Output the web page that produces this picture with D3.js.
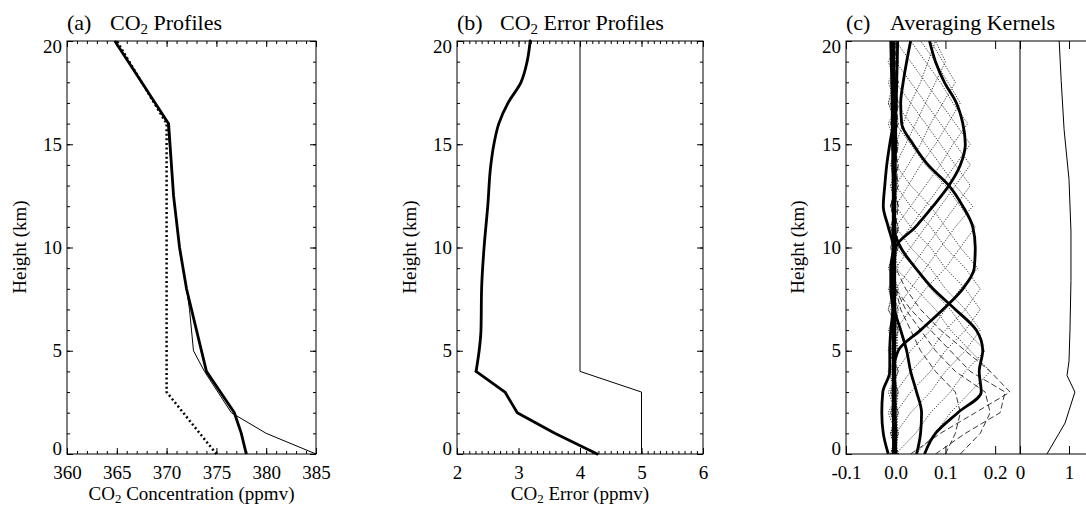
<!DOCTYPE html>
<html>
<head>
<meta charset="utf-8">
<script src="https://cdn.jsdelivr.net/npm/d3@7"></script>
<style>
  body { margin: 0; background: #fff; }
  svg, svg text { font-family: 'Liberation Serif', 'DejaVu Serif', serif; }
  text { fill: #000; }
</style>
</head>
<body>
<svg id="fig" width="1086" height="507" font-family="Liberation Serif"></svg>
<script>
// ---- data: panel (a) CO2 profiles (height km, ppmv)
var trueH    = [0, 1, 2, 4, 5, 7, 8, 10, 12.5, 16, 20];
var trueCO2  = [385, 380, 376.5, 373.8, 372.7, 372.3, 372.0, 371.3, 370.7, 370.1, 364.8];
var retH     = [0, 1, 2, 3, 4, 6, 8, 10, 12.5, 16, 20];
var retCO2   = [378, 377.5, 376.8, 375.4, 374.0, 373.0, 372.0, 371.3, 370.7, 370.2, 364.8];
var priorH   = [0, 3, 16, 20];
var priorCO2 = [375, 370, 370, 365];

// ---- panel (b) error profiles (ppmv)
var errH     = [0, 1, 2, 3, 4, 5, 6, 8, 10, 12, 14, 15, 16, 17, 18, 19, 20];
var errRet   = [4.28, 3.59, 2.98, 2.78, 2.31, 2.36, 2.39, 2.40, 2.44, 2.50, 2.55, 2.60, 2.68, 2.83, 3.04, 3.14, 3.19];
var errPrH   = [0, 3, 4, 20];
var errPrior = [5, 5, 4, 4];

// ---- panel (c) averaging kernels, values at levels 0..20 km
var kLevels = [0,1,2,3,4,5,6,7,8,9,10,11,12,13,14,15,16,17,18,19,20];
var kDotted = [
  [0.04,0.08,0.11,0.15,0.19,0.15,0.11,0.08,0.04,0.00,-0.005,0.005,-0.01,0.0,-0.01,0.005,-0.005,-0.01,0.005,-0.01,-0.005],
  [0.0,0.04,0.07,0.11,0.14,0.18,0.14,0.11,0.07,0.04,0.0,-0.01,0.005,-0.005,0.0,-0.01,0.005,-0.015,-0.005,0.005,-0.01],
  [-0.01,0.0,0.03,0.07,0.10,0.14,0.17,0.14,0.10,0.07,0.03,0.0,-0.005,0.005,-0.01,0.0,-0.015,0.005,-0.005,-0.01,0.0],
  [0.005,-0.01,0.0,0.03,0.07,0.10,0.14,0.17,0.14,0.10,0.07,0.03,0.0,-0.01,0.005,-0.005,0.0,-0.015,0.005,-0.01,-0.005],
  [-0.005,0.005,-0.01,0.0,0.03,0.07,0.10,0.14,0.17,0.14,0.10,0.07,0.03,0.0,-0.005,0.005,-0.01,0.0,-0.015,0.005,-0.01],
  [0.0,-0.01,0.005,-0.005,0.0,0.03,0.07,0.10,0.13,0.165,0.13,0.10,0.07,0.03,0.0,-0.01,0.005,-0.005,0.0,-0.015,0.005],
  [-0.01,0.005,-0.005,0.0,-0.015,0.005,0.0,0.03,0.06,0.10,0.13,0.16,0.13,0.10,0.06,0.03,0.0,-0.01,0.005,-0.005,0.0],
  [0.005,-0.005,0.0,-0.01,0.005,-0.015,-0.005,0.0,0.03,0.06,0.09,0.12,0.155,0.12,0.09,0.06,0.03,0.0,-0.005,0.005,-0.01],
  [-0.005,0.0,-0.015,0.005,-0.01,0.0,0.005,-0.005,0.0,0.03,0.06,0.09,0.12,0.15,0.12,0.09,0.06,0.03,0.0,-0.01,0.005],
  [0.0,-0.01,0.005,-0.005,0.0,-0.01,0.005,-0.015,-0.005,0.0,0.03,0.06,0.09,0.12,0.15,0.12,0.09,0.06,0.03,0.0,-0.005],
  [-0.01,0.005,0.0,-0.01,0.005,-0.005,0.0,-0.01,0.005,-0.015,0.0,0.03,0.06,0.09,0.12,0.15,0.12,0.09,0.06,0.03,0.0],
  [0.005,-0.01,0.0,0.005,-0.015,-0.005,0.0,0.005,-0.01,0.0,-0.005,0.0,0.03,0.06,0.09,0.115,0.145,0.115,0.09,0.06,0.03],
  [-0.01,0.0,0.005,-0.01,0.0,-0.005,0.005,-0.015,0.0,-0.005,0.005,-0.01,0.0,0.025,0.05,0.08,0.105,0.13,0.105,0.08,0.05],
  [0.0,0.005,-0.01,0.0,-0.005,0.005,-0.01,0.0,-0.015,0.005,-0.005,0.0,-0.01,0.0,0.025,0.05,0.07,0.095,0.12,0.095,0.07],
  [0.005,-0.005,0.0,-0.015,0.005,-0.01,0.0,-0.005,0.005,-0.01,0.0,-0.005,0.0,-0.01,0.0,0.02,0.04,0.06,0.08,0.10,0.08],
  [-0.005,0.0,-0.01,0.005,-0.005,0.0,-0.015,0.005,-0.01,0.0,-0.005,0.005,-0.01,0.0,-0.005,0.0,0.015,0.03,0.05,0.065,0.08]
];
var kDashed = [
  [0.10,0.12,0.13,0.12,0.08,0.05,0.03,0.01,0.0,-0.005,0.0,-0.01,0.005,-0.005,0.0,-0.01,0.005,0.0,-0.01,0.005,0.0],
  [0.13,0.17,0.19,0.18,0.12,0.08,0.05,0.02,0.0,-0.01,0.005,0.0,-0.01,0.0,0.005,-0.005,0.0,-0.01,0.0,-0.005,0.005],
  [0.08,0.14,0.21,0.22,0.15,0.11,0.07,0.03,0.0,-0.005,0.0,0.005,-0.01,0.005,0.0,-0.01,0.0,0.005,-0.005,0.0,-0.01],
  [0.03,0.09,0.16,0.23,0.19,0.14,0.09,0.05,0.02,0.0,-0.01,0.0,0.005,-0.005,0.0,0.005,-0.01,0.0,0.005,-0.01,0.0]
];
var kThick = [
  [-0.004,-0.004,-0.004,-0.004,-0.004,-0.004,-0.004,-0.004,-0.004,-0.003,0.0,0.04,0.075,0.107,0.13,0.14,0.135,0.122,0.098,0.08,0.068],
  [-0.004,-0.004,-0.004,-0.004,-0.004,0.005,0.05,0.095,0.135,0.158,0.16,0.155,0.135,0.107,0.065,0.035,0.012,0.01,0.015,0.022,0.03],
  [0.058,0.08,0.125,0.172,0.168,0.175,0.162,0.12,0.075,0.04,0.01,-0.004,-0.004,-0.004,-0.004,-0.004,-0.004,-0.004,-0.004,-0.004,-0.004],
  [0.042,0.05,0.052,0.042,0.03,0.022,0.01,-0.002,-0.004,-0.004,-0.004,-0.004,-0.004,-0.004,-0.004,-0.004,-0.004,-0.004,-0.004,-0.004,-0.004],
  [-0.015,-0.025,-0.028,-0.026,-0.012,-0.012,-0.01,-0.006,-0.01,-0.01,-0.005,-0.015,-0.025,-0.022,-0.018,-0.012,-0.005,0.0,-0.002,-0.005,-0.005],
  [-0.004,-0.004,-0.005,-0.005,-0.005,-0.005,-0.005,-0.005,-0.005,-0.005,-0.005,-0.005,-0.005,-0.005,-0.006,-0.006,-0.007,-0.007,-0.008,-0.009,-0.01],
  [0.0,0.0,-0.001,-0.001,-0.002,-0.002,-0.002,-0.002,-0.002,-0.002,-0.002,-0.002,-0.002,-0.001,-0.001,0.0,0.0,0.001,0.002,0.003,0.004]
];
// sum of kernel rows (right-hand strip)
var sumH = [0, 1.5, 3, 3.8, 4.5, 6, 8.4, 10.8, 13.3, 15.7, 18.1, 20];
var sumV = [0.55, 0.92, 1.12, 0.96, 1.0, 1.02, 1.04, 1.04, 1.0, 0.9, 0.84, 0.8];

// ---- tick values
var hMajor = [0, 5, 10, 15, 20];
var hMinor = d3.range(0, 21, 1);
var xMajorA = [360, 365, 370, 375, 380, 385];
var xMinorA = d3.range(360, 386, 1);
var xMajorB = [2, 3, 4, 5, 6];
var xMinorB = d3.range(2, 6.001, 0.1);
var xMajorC = [-0.1, 0.0, 0.1, 0.2];
var xMajorC2 = [0, 1];

var serif = "'Liberation Serif', 'DejaVu Serif', serif";
var svg = d3.select("#fig");
var yTop = 41, yBot = 454;
var y = d3.scaleLinear().domain([0, 20]).range([yBot, yTop]);

function styleAxis(g, keepText) {
  g.attr("font-family", serif).attr("font-size", 19);
  g.select(".domain").remove();
  g.selectAll(".tick line").attr("stroke", "#000").attr("stroke-width", 1);
  if (keepText) g.selectAll(".tick text").attr("fill", "#000").attr("font-family", serif);
  else g.selectAll(".tick text").remove();
  return g;
}

function xTicks(x, values, len, fmt) {
  styleAxis(svg.append("g").attr("transform", "translate(0," + yBot + ")")
    .call(d3.axisBottom(x).tickValues(values).tickSize(-len).tickPadding(11.5).tickFormat(fmt || "")), !!fmt);
  styleAxis(svg.append("g").attr("transform", "translate(0," + yTop + ")")
    .call(d3.axisTop(x).tickValues(values).tickSize(-len).tickFormat("")));
}

function yTicks(x0, x1) {
  var l = styleAxis(svg.append("g").attr("transform", "translate(" + x0 + ",0)")
    .call(d3.axisLeft(y).tickValues(hMajor).tickSize(-6).tickPadding(5).tickFormat(d3.format("d"))), true);
  l.selectAll(".tick text").attr("dy", function(d) { return d === 20 ? "0.62em" : d === 0 ? "0.05em" : "0.32em"; });
  styleAxis(svg.append("g").attr("transform", "translate(" + x0 + ",0)")
    .call(d3.axisLeft(y).tickValues(hMinor).tickSize(-3).tickFormat("")));
  if (x1 != null) {
    styleAxis(svg.append("g").attr("transform", "translate(" + x1 + ",0)")
      .call(d3.axisRight(y).tickValues(hMajor).tickSize(-6).tickFormat("")));
    styleAxis(svg.append("g").attr("transform", "translate(" + x1 + ",0)")
      .call(d3.axisRight(y).tickValues(hMinor).tickSize(-3).tickFormat("")));
  }
}

function box(x0, x1) {
  svg.append("rect").attr("x", x0).attr("y", yTop).attr("width", x1 - x0).attr("height", yBot - yTop)
    .attr("fill", "none").attr("stroke", "#000").attr("stroke-width", 1);
}

// text with CO2 subscript
function co2Text(x, yy, anchor, size, before, after, sub) {
  var t = svg.append("text").attr("x", x).attr("y", yy).attr("text-anchor", anchor)
    .attr("font-size", size).attr("font-family", serif);
  t.append("tspan").text(before + "CO");
  t.append("tspan").attr("font-size", size * 0.68).attr("dy", sub).text("2");
  t.append("tspan").attr("dy", -sub).text(after);
  return t;
}

function heightTitle(xc) {
  svg.append("text").attr("transform", "translate(" + xc + ",247) rotate(-90)")
    .attr("text-anchor", "middle").attr("font-size", 19).attr("font-family", serif).text("Height (km)");
}

function panelTitle(x0, letter, before, after) {
  svg.append("text").attr("x", x0).attr("y", 30).attr("font-size", 22).attr("font-family", serif).text(letter);
  co2Text(x0 + 43, 30, "start", 22, before, after, 4);
}

function path(xs, ys, x, curve) {
  return d3.line().x(function(d) { return x(d[1]); }).y(function(d) { return y(d[0]); })
    .curve(curve || d3.curveLinear)(d3.zip(ys, xs));
}

// ===== panel (a)
var xa = d3.scaleLinear().domain([360, 385]).range([67, 316]);
xTicks(xa, xMinorA, 3);
xTicks(xa, xMajorA, 6, d3.format("d"));
yTicks(67, 316);
box(67, 316);
svg.append("path").attr("d", path(priorCO2, priorH, xa)).attr("fill", "none")
  .attr("stroke", "#000").attr("stroke-width", 2.5).attr("stroke-dasharray", "2,2.6");
svg.append("path").attr("d", path(trueCO2, trueH, xa)).attr("fill", "none")
  .attr("stroke", "#000").attr("stroke-width", 1);
svg.append("path").attr("d", path(retCO2, retH, xa)).attr("fill", "none")
  .attr("stroke", "#000").attr("stroke-width", 2.8);
panelTitle(67, "(a)", "", " Profiles");
heightTitle(26);
co2Text(191.5, 500, "middle", 19, "", " Concentration (ppmv)", 3);

// ===== panel (b)
var xb = d3.scaleLinear().domain([2, 6]).range([457, 703]);
xTicks(xb, xMinorB, 3);
xTicks(xb, xMajorB, 6, d3.format("d"));
yTicks(457, 703);
box(457, 703);
svg.append("path").attr("d", path(errPrior, errPrH, xb)).attr("fill", "none")
  .attr("stroke", "#000").attr("stroke-width", 1);
// lower part kinked, upper part smooth
svg.append("path").attr("d", path(errRet.slice(0, 5), errH.slice(0, 5), xb)).attr("fill", "none")
  .attr("stroke", "#000").attr("stroke-width", 2.8).attr("stroke-linejoin", "round").attr("stroke-linecap", "round");
svg.append("path").attr("d", path(errRet.slice(4), errH.slice(4), xb, d3.curveMonotoneY)).attr("fill", "none")
  .attr("stroke", "#000").attr("stroke-width", 2.8).attr("stroke-linecap", "round");
panelTitle(457, "(b)", "", " Error Profiles");
heightTitle(416);
co2Text(580, 500, "middle", 19, "", " Error (ppmv)", 3);

// ===== panel (c)
var xc = d3.scaleLinear().domain([-0.1, 0.25]).range([846, 1020]);
var xc2 = d3.scaleLinear().domain([0, 1.4]).range([1020, 1088.6]);
var fmtC = function(d) { return d3.format(".1f")(d).replace("\u2212", "-"); };
xTicks(xc, xMajorC, 8, fmtC);
xTicks(xc2, xMajorC2, 8, d3.format("d"));
yTicks(846, null);

svg.append("clipPath").attr("id", "clipc").append("rect")
  .attr("x", 846).attr("y", yTop).attr("width", 174).attr("height", yBot - yTop);
var gc = svg.append("g").attr("clip-path", "url(#clipc)");
kDotted.forEach(function(k) {
  gc.append("path").attr("d", path(k, kLevels, xc)).attr("fill", "none")
    .attr("stroke", "#222").attr("stroke-width", 0.9).attr("stroke-dasharray", "1.2,1.5");
});
kDashed.forEach(function(k) {
  gc.append("path").attr("d", path(k, kLevels, xc)).attr("fill", "none")
    .attr("stroke", "#222").attr("stroke-width", 0.9).attr("stroke-dasharray", "6,3");
});
kThick.forEach(function(k) {
  gc.append("path").attr("d", path(k, kLevels, xc, d3.curveMonotoneY)).attr("fill", "none")
    .attr("stroke", "#000").attr("stroke-width", 2.8);
});
svg.append("path").attr("d", path(sumV, sumH, xc2)).attr("fill", "none")
  .attr("stroke", "#000").attr("stroke-width", 1);
box(846, 1088.6);
svg.append("line").attr("x1", 1020).attr("x2", 1020).attr("y1", yTop).attr("y2", yBot)
  .attr("stroke", "#000").attr("stroke-width", 1);
svg.append("text").attr("x", 846).attr("y", 30).attr("font-size", 22).attr("font-family", serif).text("(c)");
svg.append("text").attr("x", 890).attr("y", 30).attr("font-size", 22).attr("font-family", serif).text("Averaging Kernels");
heightTitle(804);
</script>
</body>
</html>
